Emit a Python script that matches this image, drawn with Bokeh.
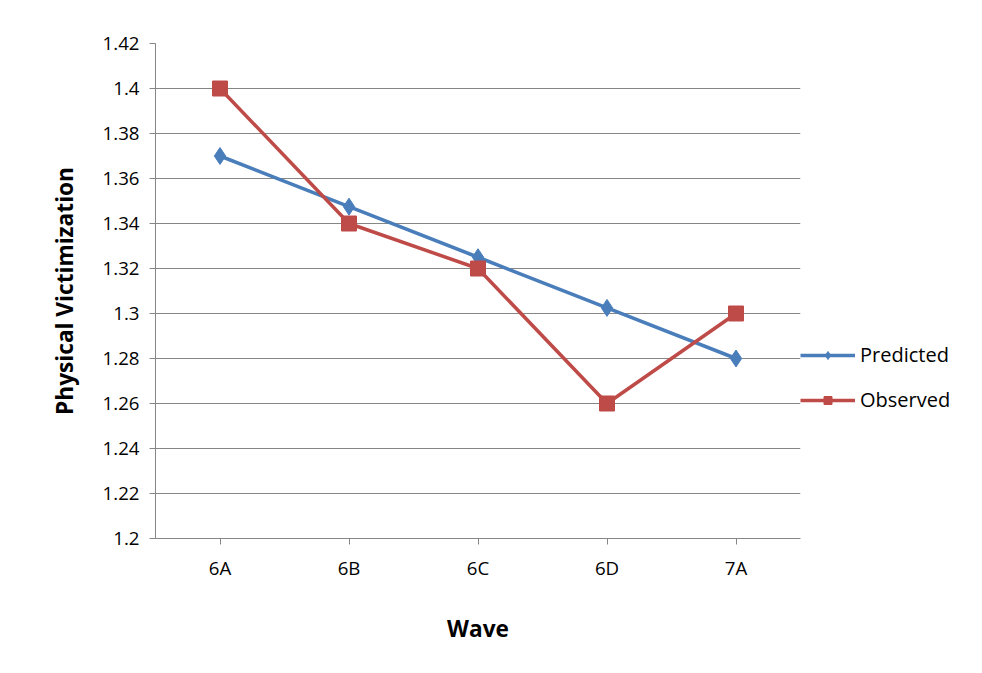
from bokeh.plotting import figure
from bokeh.models import FixedTicker, PrintfTickFormatter, Legend, LegendItem
from bokeh.embed import file_html
from bokeh.resources import INLINE

waves = ["6A", "6B", "6C", "6D", "7A"]
predicted = [1.37, 1.3475, 1.325, 1.3025, 1.28]
observed = [1.40, 1.34, 1.32, 1.26, 1.30]
y_ticks = [1.2, 1.22, 1.24, 1.26, 1.28, 1.3, 1.32, 1.34, 1.36, 1.38, 1.4, 1.42]

p = figure(x_range=waves, y_range=(1.2, 1.42), frame_width=645, frame_height=495,
           output_backend="svg", toolbar_location=None,
           min_border_left=155, min_border_top=43, min_border_bottom=120, min_border_right=0)
p.outline_line_color = None
p.border_fill_color = "white"

pl = p.line(waves, predicted, line_color="#4a7ebb", line_width=3.5)
pm = p.scatter(waves, predicted, marker="diamond", size=17, color="#4a7ebb")
ol = p.line(waves, observed, line_color="#be4b48", line_width=3.5)
om = p.scatter(waves, observed, marker="square", size=15, color="#be4b48")

p.yaxis.ticker = FixedTicker(ticks=y_ticks)
p.yaxis.formatter = PrintfTickFormatter(format="%g")
p.xgrid.grid_line_color = None
p.ygrid.grid_line_color = "#868686"
p.axis.axis_line_color = "#868686"
p.axis.major_tick_line_color = "#868686"
p.axis.minor_tick_line_color = None
p.axis.major_tick_out = 6
p.axis.major_tick_in = 0
p.axis.major_label_text_font = "Open Sans"
p.axis.major_label_text_font_size = "14pt"
p.axis.major_label_text_color = "black"
p.axis.major_label_standoff = 10
p.yaxis.axis_label = "Physical Victimization"
p.xaxis.axis_label = "Wave"
p.axis.axis_label_text_font = "Open Sans"
p.axis.axis_label_text_font_style = "bold"
p.axis.axis_label_text_font_size = "17pt"
p.axis.axis_label_text_color = "black"
p.xaxis.axis_label_standoff = 30
p.yaxis.axis_label_standoff = 20

legend = Legend(items=[LegendItem(label="Predicted", renderers=[pl, pm]),
                       LegendItem(label="Observed", renderers=[ol, om])],
                location=(0, 125), border_line_color=None, background_fill_alpha=0,
                label_text_font="Open Sans", label_text_font_size="15pt",
                label_text_color="black",
                glyph_width=55, spacing=18, padding=2, margin=0)
p.add_layout(legend, "right")

open("out.html", "w").write(file_html(p, INLINE))
